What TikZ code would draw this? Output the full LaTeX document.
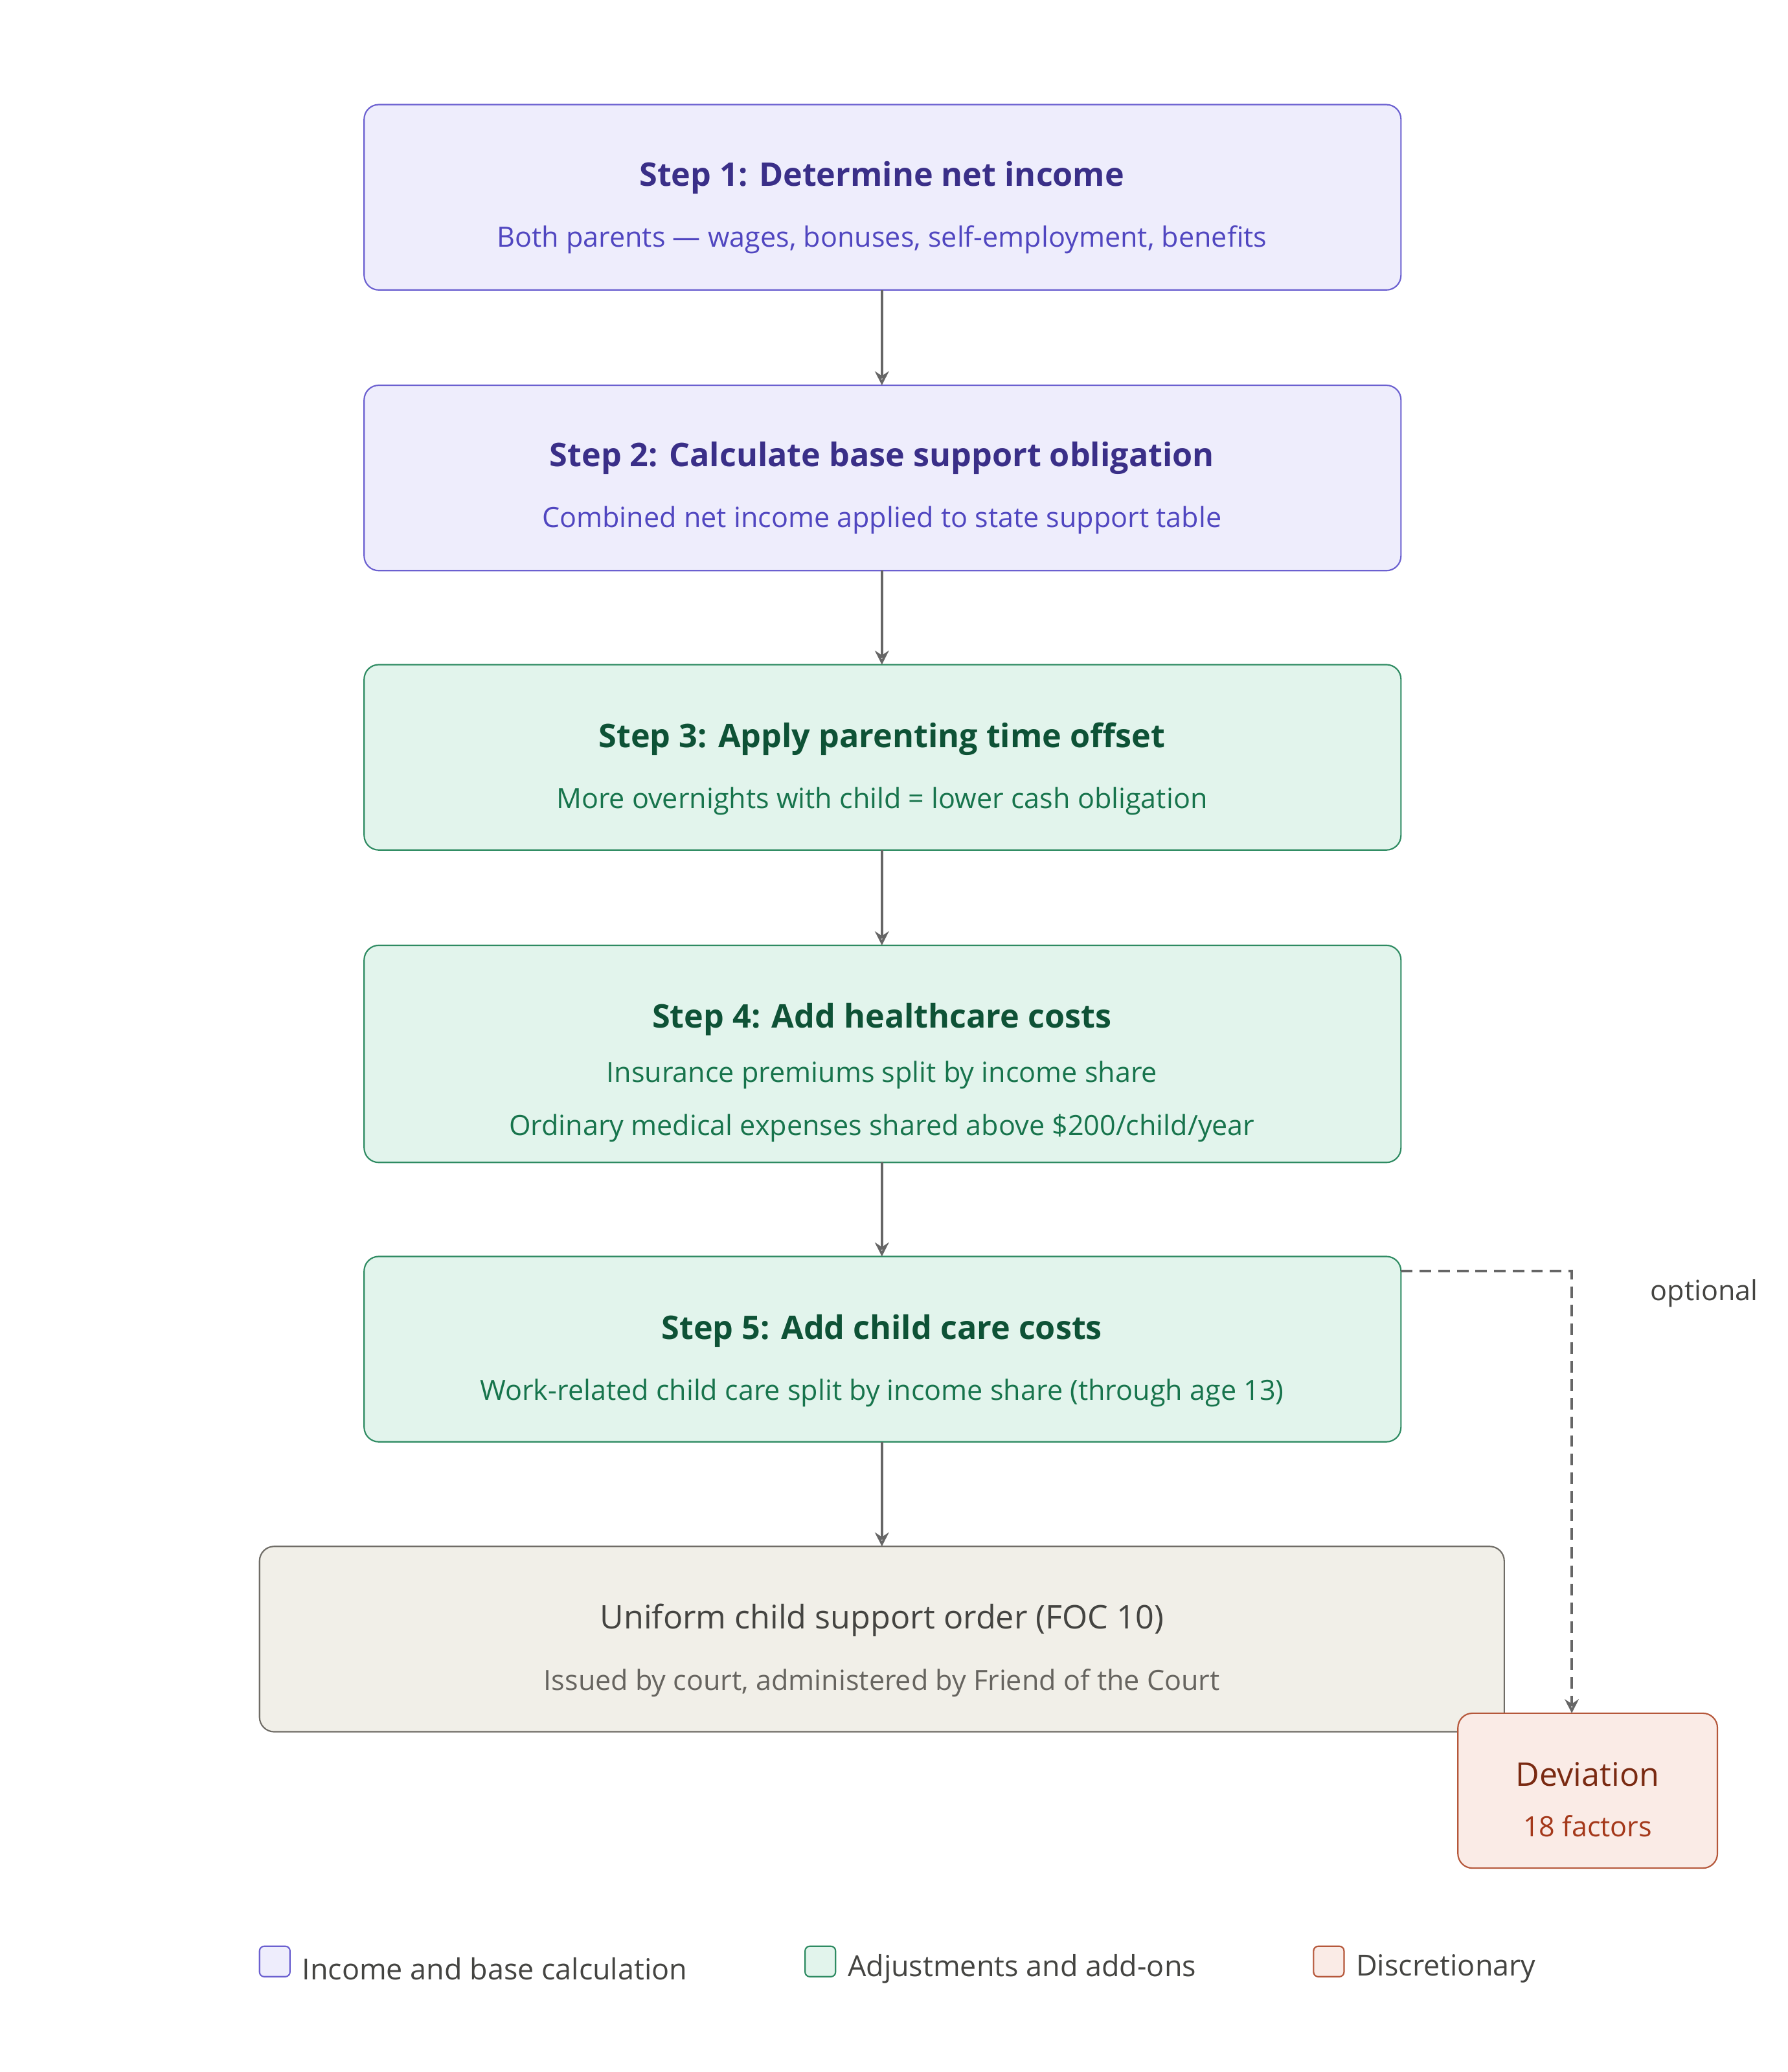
\documentclass[tikz,border=0pt]{standalone}
\usepackage{fontspec}
\setmainfont{Open Sans}
\usetikzlibrary{arrows.meta}
\definecolor{pf}{HTML}{EEEDFC}\definecolor{pd}{HTML}{6B60D0}\definecolor{pt}{HTML}{3A2F88}\definecolor{ps}{HTML}{5046C0}
\definecolor{gf}{HTML}{E2F4EC}\definecolor{gd}{HTML}{2E8B62}\definecolor{gt}{HTML}{0E5236}\definecolor{gs}{HTML}{17744C}
\definecolor{nf}{HTML}{F1EFE8}\definecolor{nd}{HTML}{6F6C66}\definecolor{nt}{HTML}{444441}\definecolor{ns}{HTML}{66645F}
\definecolor{rf}{HTML}{FAEBE6}\definecolor{rd}{HTML}{B5573A}\definecolor{rt}{HTML}{7A2A12}\definecolor{rs}{HTML}{A4381A}
\definecolor{ar}{HTML}{666666}
\begin{document}
\begin{tikzpicture}[x=0.02cm,y=-0.02cm,
 box/.style={rounded corners=0.22cm,line width=0.6pt},
 ttl/.style={font=\fontsize{14}{16}\selectfont\bfseries},
 sub/.style={font=\fontsize{12}{14}\selectfont},
 arr/.style={draw=ar,line width=1.2pt,-{Stealth[length=6pt,width=6pt,open]}},
 leg/.style={font=\fontsize{12.5}{14}\selectfont,text=nt,anchor=west}]
\useasboundingbox (0,0) rectangle (1350,1565);
% boxes
\draw[box,fill=pf,draw=pd] (275,79) rectangle (1058,219); \node (b1) at (666,149) {};
\node[ttl,text=pt] (t1) at (666,134) {Step 1: Determine net income};
\node[sub,text=ps] (s1) at (666,181) {Both parents — wages, bonuses, self-employment, benefits};
\draw[box,fill=pf,draw=pd] (275,291) rectangle (1058,431);
\node[ttl,text=pt] (t2) at (666,346) {Step 2: Calculate base support obligation};
\node[sub,text=ps] (s2) at (666,393) {Combined net income applied to state support table};
\draw[box,fill=gf,draw=gd] (275,502) rectangle (1058,642);
\node[ttl,text=gt] (t3) at (666,558) {Step 3: Apply parenting time offset};
\node[sub,text=gs] (s3) at (666,605) {More overnights with child = lower cash obligation};
\draw[box,fill=gf,draw=gd] (275,714) rectangle (1058,878);
\node[ttl,text=gt] (t4) at (666,770) {Step 4: Add healthcare costs};
\node[sub,text=gs] (s4) at (666,812) {Insurance premiums split by income share};
\node[sub,text=gs] (s4b) at (666,852) {Ordinary medical expenses shared above \$200/child/year};
\draw[box,fill=gf,draw=gd] (275,949) rectangle (1058,1089);
\node[ttl,text=gt] (t5) at (666,1005) {Step 5: Add child care costs};
\node[sub,text=gs] (s5) at (666,1052) {Work-related child care split by income share (through age 13)};
\draw[box,fill=nf,draw=nd] (196,1168) rectangle (1136,1308);
\node[ttl,text=nt,font=\fontsize{14}{16}\selectfont] (t6) at (666,1224) {Uniform child support order (FOC 10)};
\node[sub,text=ns] (s6) at (666,1271) {Issued by court, administered by Friend of the Court};
\draw[box,fill=rf,draw=rd] (1101,1294) rectangle (1297,1411);
\node[ttl,text=rt,font=\fontsize{14}{16}\selectfont] (t7) at (1199,1340) {Deviation};
\node[sub,text=rs] (s7) at (1199,1379) {18 factors};
% arrows
\coordinate (a1) at (666,219); \coordinate (a2) at (666,291);
\coordinate (a3) at (666,431); \coordinate (a4) at (666,502);
\coordinate (a5) at (666,642); \coordinate (a6) at (666,714);
\coordinate (a7) at (666,878); \coordinate (a8) at (666,949);
\coordinate (a9) at (666,1089); \coordinate (a10) at (666,1168);
\draw[arr] (a1)--(a2); \draw[arr] (a3)--(a4); \draw[arr] (a5)--(a6);
\draw[arr] (a7)--(a8); \draw[arr] (a9)--(a10);
\coordinate (d1) at (1058,960); \coordinate (d2) at (1187,1294);
\draw[arr,dashed,dash pattern=on 5pt off 3pt] (d1) -| (d2);
\node[sub,text=nt] (opt) at (1287,977) {optional};
% legend
\draw[rounded corners=2pt,fill=pf,draw=pd,line width=0.6pt] (196,1470) rectangle (219,1493);
\node[leg] (l1) at (222,1487) {Income and base calculation};
\draw[rounded corners=2pt,fill=gf,draw=gd,line width=0.6pt] (608,1470) rectangle (631,1493);
\node[leg] (l2) at (634,1487) {Adjustments and add-ons};
\draw[rounded corners=2pt,fill=rf,draw=rd,line width=0.6pt] (992,1470) rectangle (1015,1493);
\node[leg] (l3) at (1018,1487) {Discretionary};
\end{tikzpicture}
\end{document}
